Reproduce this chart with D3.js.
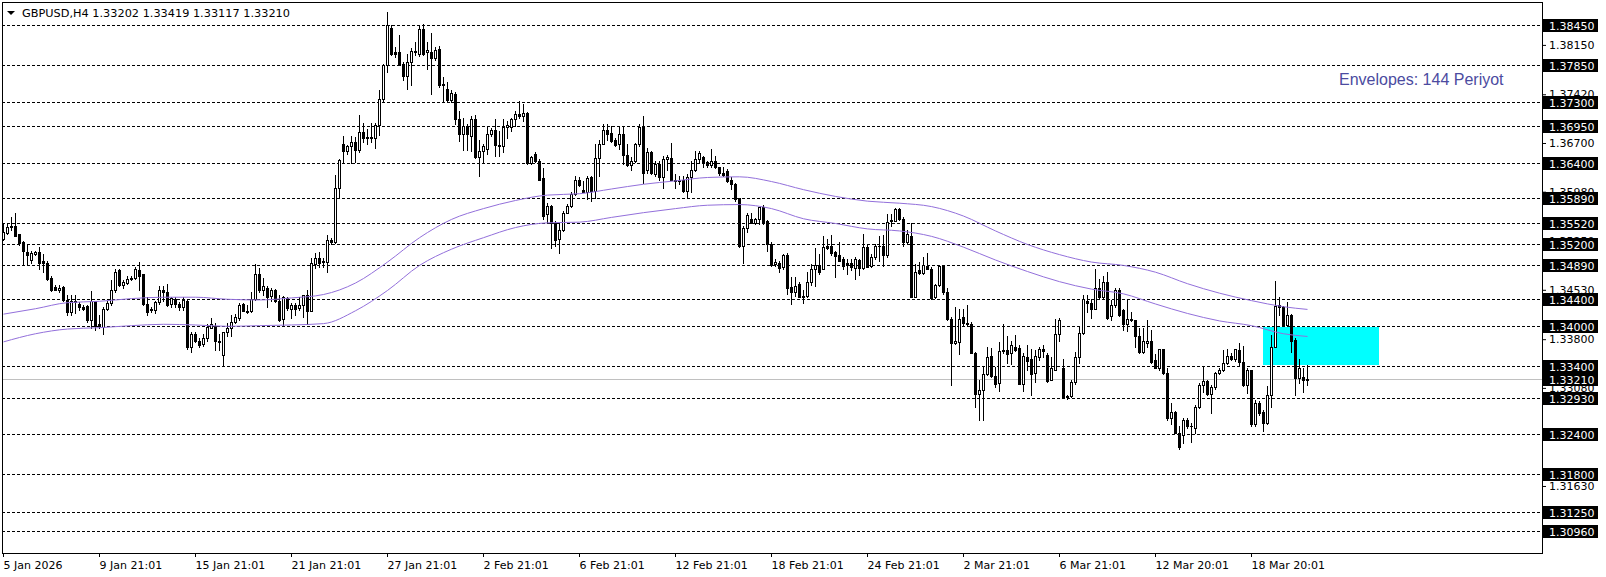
<!DOCTYPE html>
<html>
<head>
<meta charset="utf-8">
<script src="https://cdn.jsdelivr.net/npm/d3@7"></script>
<style>
  body { margin: 0; background: #fff; }
  svg { display: block; font-family: "DejaVu Sans", sans-serif; }
</style>
</head>
<body>
<svg id="chart" width="1606" height="577"></svg>
<script>
// GBPUSD H4 bars (bar 0 = 5 Jan 21:01)
const opens = [
  1.3528,1.3537,1.3546,1.3548,1.3535,1.3523,1.3509,1.3497,1.3506,1.3509,
  1.3496,1.3492,1.3470,1.3457,1.3453,1.3457,1.3438,1.3420,1.3437,1.3432,
  1.3427,1.3429,1.3409,1.3436,1.3403,1.3398,1.3425,1.3433,1.3452,1.3482,
  1.3460,1.3463,1.3471,1.3470,1.3482,1.3476,1.3432,1.3423,1.3423,1.3435,
  1.3453,1.3450,1.3432,1.3440,1.3432,1.3427,1.3437,1.3368,1.3388,1.3378,
  1.3373,1.3381,1.3397,1.3400,1.3378,1.3356,1.3390,1.3396,1.3406,1.3412,
  1.3432,1.3422,1.3421,1.3440,1.3476,1.3452,1.3456,1.3444,1.3452,1.3437,
  1.3410,1.3441,1.3425,1.3430,1.3426,1.3431,1.3446,1.3422,1.3491,1.3500,
  1.3495,1.3494,1.3527,1.3523,1.3603,1.3668,1.3658,1.3665,1.3672,1.3660,
  1.3686,1.3678,1.3679,1.3678,1.3696,1.3735,1.3786,1.3840,1.3804,1.3805,
  1.3787,1.3769,1.3789,1.3806,1.3801,1.3838,1.3804,1.3805,1.3796,1.3809,
  1.3757,1.3750,1.3733,1.3742,1.3705,1.3684,1.3695,1.3680,1.3706,1.3649,
  1.3658,1.3661,1.3684,1.3689,1.3667,1.3665,1.3694,1.3694,1.3705,1.3713,
  1.3710,1.3715,1.3641,1.3654,1.3644,1.3618,1.3565,1.3577,1.3552,1.3528,
  1.3541,1.3567,1.3577,1.3594,1.3616,1.3600,1.3598,1.3620,1.3599,1.3648,
  1.3669,1.3689,1.3685,1.3674,1.3668,1.3683,1.3652,1.3638,1.3644,1.3668,
  1.3693,1.3630,1.3656,1.3624,1.3639,1.3619,1.3646,1.3648,1.3616,1.3614,
  1.3615,1.3599,1.3619,1.3630,1.3647,1.3650,1.3642,1.3638,1.3644,1.3634,
  1.3626,1.3629,1.3615,1.3610,1.3588,1.3518,1.3545,1.3557,1.3551,1.3557,
  1.3575,1.3555,1.3520,1.3491,1.3493,1.3486,1.3505,1.3457,1.3449,1.3461,
  1.3443,1.3444,1.3465,1.3484,1.3490,1.3484,1.3518,1.3518,1.3509,1.3505,
  1.3498,1.3492,1.3492,1.3485,1.3497,1.3485,1.3516,1.3488,1.3501,1.3518,
  1.3517,1.3504,1.3554,1.3555,1.3573,1.3558,1.3523,1.3533,1.3443,1.3482,
  1.3478,1.3488,1.3484,1.3442,1.3460,1.3488,1.3449,1.3410,1.3374,1.3376,
  1.3413,1.3404,1.3402,1.3360,1.3299,1.3305,1.3328,1.3355,1.3325,1.3315,
  1.3363,1.3364,1.3359,1.3369,1.3367,1.3314,1.3353,1.3350,1.3330,1.3354,
  1.3365,1.3357,1.3320,1.3335,1.3387,1.3338,1.3295,1.3296,1.3317,1.3354,
  1.3389,1.3437,1.3433,1.3425,1.3456,1.3442,1.3465,1.3414,1.3430,1.3453,
  1.3423,1.3403,1.3410,1.3408,1.3384,1.3361,1.3374,1.3378,1.3349,1.3337,
  1.3365,1.3330,1.3263,1.3273,1.3242,1.3238,1.3261,1.3252,1.3248,1.3280,
  1.3312,1.3318,1.3299,1.3309,1.3330,1.3335,1.3345,1.3355,1.3350,1.3364,
  1.3346,1.3312,1.3334,1.3255,1.3286,1.3273,1.3256,1.3297,1.3369,1.3430,
  1.3427,1.3401,1.3415,1.3379,1.3323,1.3324,1.33202
];
const highs = [
  1.3551,1.3551,1.3561,1.3566,1.3536,1.3525,1.3521,1.3511,1.3511,1.3516,
  1.3506,1.3496,1.3473,1.3460,1.3460,1.3458,1.3445,1.3445,1.3445,1.3435,
  1.3430,1.3430,1.3451,1.3437,1.3415,1.3428,1.3437,1.3467,1.3484,1.3484,
  1.3468,1.3474,1.3474,1.3487,1.3494,1.3477,1.3442,1.3428,1.3437,1.3458,
  1.3458,1.3462,1.3442,1.3442,1.3435,1.3442,1.3438,1.3391,1.3391,1.3381,
  1.3388,1.3403,1.3412,1.3404,1.3388,1.3391,1.3404,1.3416,1.3417,1.3433,
  1.3433,1.3431,1.3450,1.3491,1.3485,1.3470,1.3458,1.3455,1.3454,1.3445,
  1.3444,1.3443,1.3433,1.3433,1.3443,1.3446,1.3453,1.3500,1.3507,1.3509,
  1.3500,1.3534,1.3529,1.3623,1.3646,1.3681,1.3667,1.3681,1.3679,1.3712,
  1.3700,1.3691,1.3700,1.3700,1.3748,1.3787,1.3864,1.3844,1.3812,1.3829,
  1.3790,1.3802,1.3810,1.3819,1.3845,1.3846,1.3819,1.3832,1.3812,1.3813,
  1.3768,1.3760,1.3748,1.3746,1.3717,1.3707,1.3698,1.3710,1.3712,1.3675,
  1.3668,1.3695,1.3692,1.3705,1.3688,1.3706,1.3702,1.3707,1.3717,1.3732,
  1.3727,1.3716,1.3651,1.3657,1.3646,1.3633,1.3582,1.3579,1.3555,1.3550,
  1.3569,1.3580,1.3597,1.3621,1.3620,1.3614,1.3621,1.3621,1.3669,1.3675,
  1.3698,1.3698,1.3695,1.3678,1.3693,1.3695,1.3668,1.3649,1.3670,1.3698,
  1.3710,1.3662,1.3658,1.3643,1.3643,1.3651,1.3652,1.3670,1.3624,1.3621,
  1.3621,1.3624,1.3643,1.3658,1.3658,1.3651,1.3644,1.3661,1.3651,1.3635,
  1.3634,1.3631,1.3619,1.3611,1.3589,1.3548,1.3567,1.3567,1.3559,1.3576,
  1.3579,1.3556,1.3523,1.3498,1.3495,1.3506,1.3508,1.3472,1.3472,1.3464,
  1.3452,1.3479,1.3491,1.3515,1.3506,1.3533,1.3528,1.3534,1.3511,1.3523,
  1.3502,1.3498,1.3498,1.3501,1.3498,1.3535,1.3520,1.3506,1.3521,1.3533,
  1.3534,1.3565,1.3565,1.3574,1.3574,1.3560,1.3541,1.3552,1.3491,1.3494,
  1.3501,1.3507,1.3486,1.3462,1.3488,1.3490,1.3455,1.3413,1.3428,1.3425,
  1.3425,1.3430,1.3405,1.3361,1.3319,1.3339,1.3369,1.3367,1.3339,1.3376,
  1.3402,1.3384,1.3378,1.3386,1.3371,1.3359,1.3372,1.3365,1.3364,1.3369,
  1.3372,1.3360,1.3354,1.3410,1.3412,1.3351,1.3297,1.3320,1.3361,1.3400,
  1.3445,1.3445,1.3440,1.3483,1.3469,1.3474,1.3479,1.3438,1.3455,1.3456,
  1.3424,1.3440,1.3420,1.3409,1.3397,1.3396,1.3409,1.3393,1.3358,1.3366,
  1.3366,1.3338,1.3285,1.3274,1.3251,1.3263,1.3263,1.3256,1.3283,1.3315,
  1.3340,1.3320,1.3312,1.3332,1.3338,1.3364,1.3365,1.3359,1.3366,1.3375,
  1.3370,1.3338,1.3335,1.3290,1.3289,1.3275,1.3311,1.3386,1.3466,1.3442,
  1.3429,1.3435,1.3417,1.3381,1.3351,1.3337,1.33419
];
const lows = [
  1.3527,1.3536,1.3541,1.3532,1.3519,1.3489,1.3489,1.3492,1.3505,1.3484,
  1.3479,1.3467,1.3451,1.3452,1.3450,1.3437,1.3415,1.3415,1.3418,1.3423,
  1.3423,1.3405,1.3396,1.3393,1.3396,1.3388,1.3423,1.3431,1.3450,1.3458,
  1.3456,1.3461,1.3467,1.3469,1.3452,1.3431,1.3415,1.3420,1.3418,1.3432,
  1.3437,1.3429,1.3428,1.3427,1.3423,1.3423,1.3366,1.3361,1.3376,1.3369,
  1.3370,1.3378,1.3396,1.3364,1.3364,1.3341,1.3384,1.3384,1.3404,1.3409,
  1.3421,1.3418,1.3420,1.3438,1.3450,1.3445,1.3428,1.3437,1.3435,1.3407,
  1.3401,1.3423,1.3411,1.3416,1.3423,1.3413,1.3402,1.3421,1.3485,1.3487,
  1.3487,1.3480,1.3520,1.3522,1.3590,1.3641,1.3653,1.3641,1.3642,1.3657,
  1.3672,1.3669,1.3672,1.3663,1.3682,1.3731,1.3775,1.3800,1.3797,1.3785,
  1.3763,1.3750,1.3755,1.3800,1.3799,1.3800,1.3780,1.3743,1.3792,1.3753,
  1.3731,1.3730,1.3731,1.3698,1.3673,1.3659,1.3659,1.3658,1.3648,1.3621,
  1.3641,1.3653,1.3680,1.3651,1.3651,1.3656,1.3678,1.3687,1.3695,1.3707,
  1.3702,1.3639,1.3639,1.3642,1.3615,1.3557,1.3552,1.3515,1.3518,1.3507,
  1.3540,1.3566,1.3575,1.3593,1.3606,1.3597,1.3587,1.3584,1.3589,1.3621,
  1.3668,1.3674,1.3672,1.3666,1.3661,1.3639,1.3636,1.3630,1.3642,1.3666,
  1.3611,1.3626,1.3624,1.3621,1.3616,1.3604,1.3630,1.3615,1.3603,1.3610,
  1.3597,1.3589,1.3597,1.3628,1.3640,1.3635,1.3635,1.3634,1.3633,1.3623,
  1.3621,1.3613,1.3602,1.3584,1.3516,1.3493,1.3538,1.3551,1.3550,1.3550,
  1.3550,1.3510,1.3488,1.3488,1.3479,1.3483,1.3447,1.3432,1.3444,1.3442,
  1.3434,1.3443,1.3460,1.3459,1.3476,1.3483,1.3513,1.3505,1.3472,1.3495,
  1.3483,1.3476,1.3482,1.3469,1.3475,1.3484,1.3486,1.3486,1.3498,1.3496,
  1.3488,1.3502,1.3547,1.3554,1.3556,1.3517,1.3521,1.3442,1.3442,1.3476,
  1.3476,1.3483,1.3440,1.3441,1.3458,1.3447,1.3408,1.3312,1.3373,1.3358,
  1.3400,1.3400,1.3359,1.3280,1.3260,1.3260,1.3327,1.3324,1.3309,1.3304,
  1.3359,1.3345,1.3344,1.3363,1.3313,1.3304,1.3334,1.3297,1.3317,1.3349,
  1.3353,1.3317,1.3319,1.3334,1.3377,1.3294,1.3292,1.3294,1.3314,1.3345,
  1.3388,1.3420,1.3412,1.3424,1.3440,1.3440,1.3410,1.3408,1.3428,1.3414,
  1.3393,1.3392,1.3407,1.3369,1.3360,1.3360,1.3369,1.3345,1.3337,1.3335,
  1.3329,1.3261,1.3255,1.3241,1.3217,1.3226,1.3248,1.3228,1.3242,1.3279,
  1.3302,1.3297,1.3271,1.3307,1.3328,1.3333,1.3343,1.3349,1.3348,1.3342,
  1.3311,1.3301,1.3252,1.3252,1.3268,1.3245,1.3255,1.3280,1.3368,1.3415,
  1.3399,1.3399,1.3361,1.3297,1.3315,1.3302,1.33117
];
const closes = [
  1.3538,1.3546,1.3548,1.3533,1.3522,1.3510,1.3504,1.3507,1.3509,1.3493,
  1.3492,1.3469,1.3452,1.3453,1.3456,1.3438,1.3420,1.3437,1.3435,1.3427,
  1.3424,1.3409,1.3437,1.3400,1.3399,1.3425,1.3433,1.3453,1.3480,1.3460,
  1.3464,1.3469,1.3469,1.3483,1.3474,1.3432,1.3420,1.3425,1.3435,1.3453,
  1.3450,1.3430,1.3441,1.3432,1.3427,1.3438,1.3368,1.3387,1.3378,1.3371,
  1.3382,1.3398,1.3402,1.3378,1.3376,1.3390,1.3397,1.3406,1.3413,1.3431,
  1.3422,1.3420,1.3440,1.3477,1.3453,1.3458,1.3442,1.3453,1.3436,1.3409,
  1.3443,1.3426,1.3430,1.3425,1.3431,1.3445,1.3422,1.3492,1.3500,1.3493,
  1.3494,1.3527,1.3523,1.3603,1.3645,1.3658,1.3665,1.3672,1.3660,1.3686,
  1.3678,1.3679,1.3678,1.3696,1.3735,1.3786,1.3845,1.3802,1.3802,1.3786,
  1.3769,1.3789,1.3806,1.3804,1.3838,1.3801,1.3807,1.3796,1.3807,1.3755,
  1.3755,1.3733,1.3744,1.3705,1.3684,1.3695,1.3684,1.3706,1.3650,1.3658,
  1.3666,1.3684,1.3689,1.3667,1.3665,1.3694,1.3697,1.3705,1.3713,1.3710,
  1.3715,1.3641,1.3649,1.3643,1.3616,1.3562,1.3577,1.3552,1.3526,1.3541,
  1.3567,1.3577,1.3594,1.3616,1.3608,1.3598,1.3618,1.3599,1.3648,1.3669,
  1.3689,1.3684,1.3673,1.3667,1.3683,1.3652,1.3637,1.3644,1.3668,1.3693,
  1.3626,1.3656,1.3626,1.3639,1.3619,1.3646,1.3649,1.3616,1.3614,1.3615,
  1.3599,1.3619,1.3630,1.3647,1.3655,1.3641,1.3638,1.3644,1.3634,1.3625,
  1.3623,1.3614,1.3609,1.3587,1.3518,1.3545,1.3564,1.3552,1.3557,1.3575,
  1.3552,1.3520,1.3490,1.3494,1.3485,1.3505,1.3456,1.3449,1.3459,1.3443,
  1.3444,1.3465,1.3484,1.3490,1.3479,1.3516,1.3515,1.3507,1.3503,1.3496,
  1.3488,1.3490,1.3486,1.3498,1.3485,1.3516,1.3487,1.3502,1.3518,1.3517,
  1.3505,1.3553,1.3556,1.3573,1.3558,1.3523,1.3535,1.3443,1.3480,1.3478,
  1.3489,1.3484,1.3441,1.3460,1.3488,1.3449,1.3410,1.3374,1.3377,1.3410,
  1.3404,1.3402,1.3360,1.3299,1.3305,1.3328,1.3354,1.3325,1.3314,1.3363,
  1.3364,1.3358,1.3371,1.3364,1.3314,1.3355,1.3348,1.3329,1.3355,1.3365,
  1.3362,1.3318,1.3337,1.3387,1.3409,1.3295,1.3296,1.3317,1.3354,1.3389,
  1.3440,1.3433,1.3425,1.3456,1.3442,1.3465,1.3412,1.3430,1.3453,1.3415,
  1.3403,1.3410,1.3408,1.3384,1.3361,1.3377,1.3378,1.3346,1.3338,1.3365,
  1.3330,1.3263,1.3273,1.3242,1.3221,1.3260,1.3252,1.3251,1.3280,1.3312,
  1.3318,1.3299,1.3310,1.3330,1.3335,1.3345,1.3355,1.3351,1.3365,1.3346,
  1.3312,1.3335,1.3255,1.3286,1.3271,1.3256,1.3297,1.3369,1.3429,1.3427,
  1.3401,1.3415,1.3378,1.3323,1.3337,1.3320,1.33210
];

// Envelopes (144) read every 8 bars
const envIndex = [0,8,16,24,32,40,48,56,64,72,80,88,96,104,112,120,128,136,144,152,160,
  168,176,184,192,200,208,216,224,232,240,248,256,264,272,280,288,296,304,312,320,326];
const envUpper = [1.3417,1.3425,1.3434,1.3436,1.3440,1.3442,1.3442,1.3439,1.3438,1.3441,1.3446,
  1.3463,1.3494,1.3530,1.3557,1.3573,1.3585,1.3593,1.3595,1.3602,1.3609,1.3614,1.3619,1.3620,
  1.3613,1.3601,1.3591,1.3584,1.3581,1.3576,1.3562,1.3540,1.3520,1.3505,1.3494,1.3489,1.3479,
  1.3462,1.3448,1.3437,1.3428,1.3424];
const envLower = [1.3376,1.3388,1.3395,1.3397,1.3400,1.3402,1.3401,1.3399,1.3400,1.3401,1.3403,
  1.3422,1.3452,1.3489,1.3513,1.3530,1.3545,1.3552,1.3553,1.3560,1.3567,1.3573,1.3578,1.3579,
  1.3573,1.3558,1.3551,1.3543,1.3540,1.3532,1.3516,1.3497,1.3480,1.3465,1.3454,1.3447,1.3432,
  1.3418,1.3407,1.3400,1.3388,1.3384];

// horizontal levels with black price boxes
const levels = [1.38450,1.37850,1.37300,1.36950,1.36400,1.35890,1.35520,1.35200,1.34890,
  1.34400,1.34000,1.33400,1.32930,1.32400,1.31800,1.31250,1.30960];
const priceTicks = [1.38150,1.37420,1.36700,1.35980,1.35250,1.34530,1.33800,1.33080,1.31630];
const bid = 1.33210;

const dateTicks = [0,24,48,72,96,120,144,168,192,216,240,264,288,312];
const dateLabels = ["5 Jan 2026","9 Jan 21:01","15 Jan 21:01","21 Jan 21:01","27 Jan 21:01",
  "2 Feb 21:01","6 Feb 21:01","12 Feb 21:01","18 Feb 21:01","24 Feb 21:01","2 Mar 21:01",
  "6 Mar 21:01","12 Mar 20:01","18 Mar 20:01"];

// rectangle object: bar range and price range
const zoneBars = [315, 344];
const zonePrices = [1.3398, 1.3342];

const title = "GBPUSD,H4  1.33202 1.33419 1.33117 1.33210";
const envText = "Envelopes: 144 Periyot";

const svg = d3.select('#chart');
const frame = { left: 2, right: 1542, top: 2, bottom: 553 };

const x = d3.scaleLinear().domain([0, 326]).range([3, 1307]);
const y = d3.scaleLinear().domain([1.3096, 1.3845]).range([531.3, 24.6]);
const py = v => Math.round(y(v));

svg.append('rect').attr('width', 1606).attr('height', 577).attr('fill', '#fff');

// zone
svg.append('rect')
    .attr('x', Math.round(x(zoneBars[0])))
    .attr('y', py(zonePrices[0]))
    .attr('width', Math.round(x(zoneBars[1])) - Math.round(x(zoneBars[0])))
    .attr('height', py(zonePrices[1]) - py(zonePrices[0]))
    .attr('fill', '#00ffff');

// level lines
svg.append('g').selectAll('line')
    .data(levels)
    .join('line')
    .attr('x1', frame.left).attr('x2', frame.right)
    .attr('y1', d => py(d) + 0.5).attr('y2', d => py(d) + 0.5)
    .attr('stroke', '#000')
    .attr('stroke-dasharray', '3,2');

svg.append('line')
    .attr('x1', frame.left).attr('x2', frame.right)
    .attr('y1', py(bid) + 0.5).attr('y2', py(bid) + 0.5)
    .attr('stroke', '#c0c0c0');

// candles
const bars = closes.map((c, i) => ({ i, o: opens[i], h: highs[i], l: lows[i], c }));
const cg = svg.append('g').attr('shape-rendering', 'crispEdges');
const cx = d => Math.round(x(d.i));

cg.selectAll('rect.wick')
    .data(bars)
    .join('rect')
    .attr('class', 'wick')
    .attr('x', cx)
    .attr('y', d => py(d.h))
    .attr('width', 1)
    .attr('height', d => py(d.l) - py(d.h) + 1)
    .attr('fill', '#000');

cg.selectAll('rect.body')
    .data(bars)
    .join('rect')
    .attr('class', 'body')
    .attr('x', d => cx(d) - 1)
    .attr('y', d => Math.min(py(d.o), py(d.c)))
    .attr('width', 3)
    .attr('height', d => Math.abs(py(d.o) - py(d.c)) + 1)
    .attr('fill', '#000');

cg.selectAll('rect.hollow')
    .data(bars.filter(d => d.c > d.o && py(d.o) - py(d.c) >= 2))
    .join('rect')
    .attr('class', 'hollow')
    .attr('x', cx)
    .attr('y', d => py(d.c) + 1)
    .attr('width', 1)
    .attr('height', d => py(d.o) - py(d.c) - 1)
    .attr('fill', '#fff');

// envelopes
const envLine = d3.line()
    .x(d => x(d[0]) + 0.5)
    .y(d => y(d[1]))
    .curve(d3.curveMonotoneX);

[envUpper, envLower].forEach(arr => {
    svg.append('path')
        .datum(envIndex.map((k, j) => [k, arr[j]]))
        .attr('d', envLine)
        .attr('fill', 'none')
        .attr('stroke', '#9370db')
        .attr('stroke-width', 1);
});

// frame
svg.append('rect')
    .attr('x', frame.left + 0.5).attr('y', frame.top + 0.5)
    .attr('width', frame.right - frame.left).attr('height', frame.bottom - frame.top)
    .attr('fill', 'none').attr('stroke', '#000');

// time axis
const xAxis = d3.axisBottom(x)
    .tickValues(dateTicks)
    .tickFormat((d, k) => dateLabels[k])
    .tickSize(4);

const xg = svg.append('g')
    .attr('transform', `translate(0, ${frame.bottom})`)
    .call(xAxis);
xg.select('.domain').remove();
xg.selectAll('text')
    .attr('text-anchor', 'start')
    .attr('x', 0)
    .attr('y', 16)
    .attr('dy', null)
    .attr('fill', '#000')
    .style('font-size', '11px')
    .style('font-family', '"DejaVu Sans", sans-serif');

// price axis
const yAxis = d3.axisRight(y)
    .tickValues(priceTicks)
    .tickFormat(d3.format('.5f'))
    .tickSize(4)
    .tickPadding(3);

const yg = svg.append('g')
    .attr('transform', `translate(${frame.right}, 0)`)
    .call(yAxis);
yg.select('.domain').remove();
yg.selectAll('text')
    .attr('fill', '#000')
    .style('font-size', '11px')
    .style('font-family', '"DejaVu Sans", sans-serif');

// black price boxes
const boxes = svg.append('g').selectAll('g')
    .data(levels.concat([bid]))
    .join('g')
    .attr('transform', d => `translate(${frame.right + 1}, ${py(d)})`);
boxes.append('rect')
    .attr('x', 0).attr('y', -6)
    .attr('width', 55).attr('height', 13)
    .attr('fill', '#000');
boxes.append('text')
    .attr('x', 6).attr('y', 4.5)
    .attr('fill', '#fff')
    .style('font-size', '11px')
    .text(d => d3.format('.5f')(d));

// title
svg.append('path')
    .attr('d', 'M7,11 L15,11 L11,15 Z')
    .attr('fill', '#000');
svg.append('text')
    .attr('x', 22).attr('y', 16.5)
    .attr('fill', '#000')
    .style('font-size', '11.3px')
    .text(title);

svg.append('text')
    .attr('x', 1339).attr('y', 85)
    .attr('fill', '#4b4ba0')
    .style('font-family', '"Liberation Sans", Arial, sans-serif')
    .style('font-size', '16px')
    .text(envText);
</script>
</body>
</html>
